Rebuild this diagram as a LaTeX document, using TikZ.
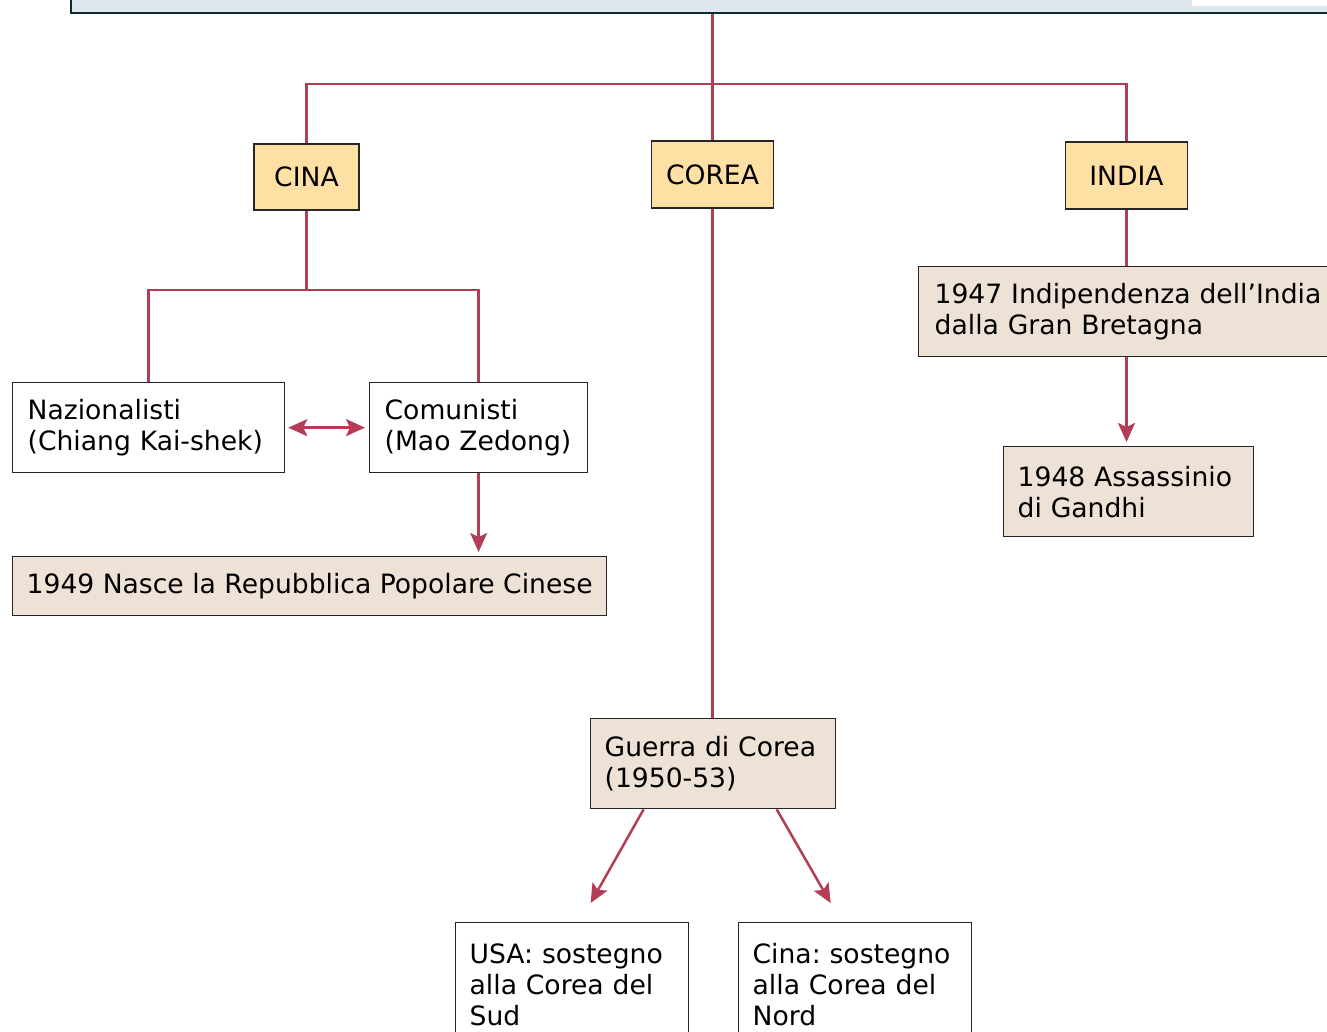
\documentclass[tikz,border=0pt]{standalone}
\usepackage{fontspec}
\setmainfont{DejaVu Sans}
\usetikzlibrary{arrows.meta,calc}
\definecolor{lnc}{HTML}{B23D55}
\definecolor{orangefill}{HTML}{FEE0A5}
\definecolor{beige}{HTML}{EDE2D5}
\definecolor{topfill}{HTML}{DFE7EE}
\definecolor{topline}{HTML}{0D2A35}
\pgfdeclarelayer{bg}
\pgfsetlayers{bg,main}
\frenchspacing
\begin{document}
\begin{tikzpicture}[x=1pt,y=-1pt,
  font=\fontsize{26.6}{31}\selectfont,
  country/.style={draw=black!85, fill=orangefill, line width=1.3pt, inner sep=0pt},
  box/.style={draw=black!85, fill=white, line width=1.3pt, align=left, inner xsep=15pt, inner ysep=0pt, anchor=north west},
  event/.style={box, fill=beige},
  conn/.style={draw=lnc, line width=2.5pt},
  tip/.tip={Stealth[length=19pt,width=17pt,inset=4pt]},
  arr/.style={conn, -tip},
  darr/.style={conn, tip-tip}]
\useasboundingbox (0,0) rectangle (1327,1032);
% top box (cut off)
\node[draw=topline, fill=topfill, line width=2pt, anchor=south west, minimum width=1300pt, minimum height=40pt, inner sep=0pt] (top) at (70,14) {};
\fill[white] (1192,-5) rectangle (1340,6.5);
% countries
\node[country, minimum width=105pt, minimum height=66pt] (cina) at (306.5,177) {CINA};
\node[country, minimum width=122pt, minimum height=67pt] (corea) at (712.5,174.5) {COREA};
\node[country, minimum width=122pt, minimum height=67pt] (india) at (1126.5,175.5) {INDIA};
% China branch
\node[box, text width=242pt, minimum height=90pt] (naz) at (12,382) {Nazionalisti\\(Chiang Kai-shek)};
\node[box, text width=188pt, minimum height=90pt] (com) at (369,382) {Comunisti\\(Mao Zedong)};
\node[event, align=center, minimum width=594pt, minimum height=59pt, inner xsep=0pt] (ev49) at (12,556) {1949 Nasce la Repubblica Popolare Cinese};
% India branch
\node[event, text width=410pt, inner xsep=16pt, minimum height=90pt] (ind47) at (918,266) {1947 Indipendenza dell’India\\dalla Gran Bretagna};
\node[event, text width=222pt, inner xsep=14pt, minimum height=90pt] (ind48) at (1003,446) {1948 Assassinio\\di Gandhi};
% Korea branch
\node[event, text width=217pt, inner xsep=14pt, minimum height=90pt] (guerra) at (590,718) {Guerra di Corea\\(1950-53)};
\node[box, text width=205pt, inner xsep=14pt, minimum height=124pt] (usa) at (455,922) {USA: sostegno\\alla Corea del\\Sud};
\node[box, text width=205pt, inner xsep=14pt, minimum height=124pt] (cinan) at (738,922) {Cina: sostegno\\alla Corea del\\Nord};
\coordinate (hbar) at (0,84);
\coordinate (cbar) at (0,290);
\begin{pgfonlayer}{bg}
\draw[conn] (top.south -| corea.center) -- (guerra.north -| corea.center);
\draw[conn] (cina.north) -- (cina.north |- hbar) -- (india.north |- hbar) -- (india.north);
\draw[conn] (cina.south) -- (cina.south |- cbar);
\draw[conn] (naz.north) -- (naz.north |- cbar) -- (com.north |- cbar) -- (com.north);
\draw[darr, shorten <=3pt, shorten >=4pt] (naz.east) -- (com.west);
\draw[arr, shorten >=4pt] (com.south) -- (ev49.north -| com.south);
\draw[conn] (india.south) -- (ind47.north -| india.south);
\draw[arr, shorten >=4pt] (ind47.south -| india.south) -- (ind48.north -| india.south);
\draw[arr] ($(guerra.south)+(-69.5,0)$) -- ($(usa.north)+(18.5,-19)$);
\draw[arr] ($(guerra.south)+(63.5,0)$) -- ($(cinan.north)+(-24.5,-19)$);
\end{pgfonlayer}
\end{tikzpicture}
\end{document}
